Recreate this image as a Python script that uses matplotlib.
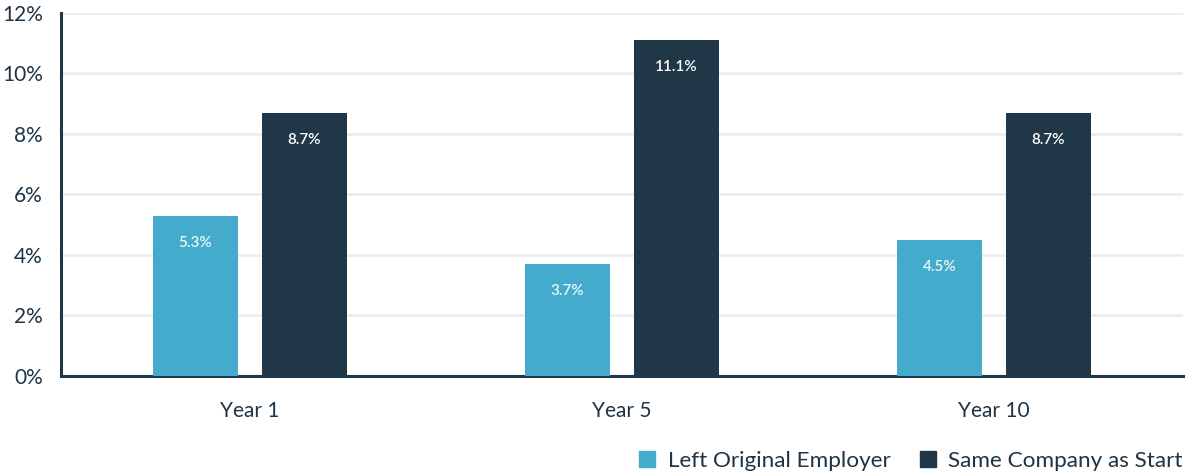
import matplotlib
matplotlib.use("Agg")
import matplotlib.pyplot as plt
from matplotlib.patches import Patch
from matplotlib.ticker import FuncFormatter
import numpy as np

categories = ["Year 1", "Year 5", "Year 10"]
left_employer = [5.3, 3.7, 4.5]
same_company = [8.7, 11.1, 8.7]
series_names = ["Left Original Employer", "Same Company as Start"]
y_ticks = [0, 2, 4, 6, 8, 10, 12]

light = "#45abcc"
dark = "#203748"
text_color = "#1f3444"
grid_color = "#e9eef2"

plt.rcParams["font.family"] = ["Lato", "DejaVu Sans"]

fig = plt.figure(figsize=(11.91, 4.74), dpi=100)
ax = fig.add_axes([0.0512, 0.2068, 0.9421, 0.7658])

x = np.arange(len(categories))
width = 0.2285
offset = 0.1465

b1 = ax.bar(x - offset, left_employer, width, color=light, zorder=3)
b2 = ax.bar(x + offset, same_company, width, color=dark, zorder=3)

for bars, vals, col in ((b1, left_employer, "#eaf6fa"), (b2, same_company, "#ffffff")):
    for rect, v in zip(bars, vals):
        ax.annotate(f"{v:.1f}%", (rect.get_x() + rect.get_width() / 2, v),
                    xytext=(0, -27), textcoords="offset pixels",
                    ha="center", va="center", color=col, fontsize=11,
                    fontweight="semibold", zorder=4)

ax.set_xlim(-0.508, 2.508)
ax.set_ylim(0, 12)
ax.set_yticks(y_ticks)
ax.yaxis.set_major_formatter(FuncFormatter(lambda v, p: f"{v:.0f}%"))
ax.set_xticks(x)
ax.set_xticklabels(categories)

ax.grid(axis="y", color=grid_color, linewidth=2, zorder=0)
ax.set_axisbelow(True)

for s in ("top", "right"):
    ax.spines[s].set_visible(False)
for s in ("left", "bottom"):
    ax.spines[s].set_color(dark)
    ax.spines[s].set_linewidth(2.2)

ax.tick_params(axis="both", length=0, labelsize=15, colors=text_color)
ax.tick_params(axis="y", pad=13)
ax.tick_params(axis="x", pad=18)

handles = [Patch(color=light), Patch(color=dark)]
fig.legend(handles, series_names, loc="lower right", bbox_to_anchor=(1.01, -0.037),
           ncol=2, frameon=False, fontsize=16.2, handlelength=0.72, handleheight=0.72,
           handletextpad=0.55, columnspacing=1.3, labelcolor=text_color)

fig.savefig("out.png", dpi=100, facecolor="white")
